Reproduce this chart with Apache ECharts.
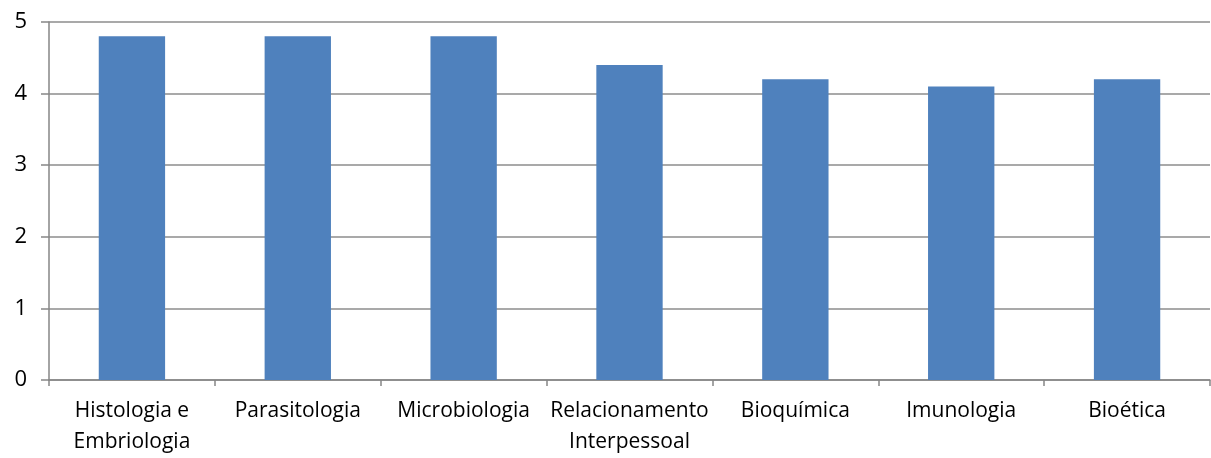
<!DOCTYPE html>
<html>
<head>
<meta charset="utf-8">
<script src="https://cdn.jsdelivr.net/npm/echarts@6/dist/echarts.min.js"></script>
<style>
html,body{margin:0;padding:0;background:#fff;}
#c{width:1211px;height:458px;}
</style>
</head>
<body>
<div id="c"></div>
<script>
const categories = ["Histologia e\nEmbriologia", "Parasitologia", "Microbiologia", "Relacionamento\nInterpessoal", "Bioquímica", "Imunologia", "Bioética"];
const values = [4.8, 4.8, 4.8, 4.4, 4.2, 4.1, 4.2];
const yTicks = [0, 1, 2, 3, 4, 5];

const chart = echarts.init(document.getElementById('c'), null, {renderer: 'canvas'});
chart.setOption({
  animation: false,
  grid: {left: 49, right: 1, top: 22, bottom: 76, containLabel: false},
  xAxis: {
    type: 'category',
    data: categories,
    boundaryGap: true,
    axisLine: {lineStyle: {color: '#868686', width: 1.5}},
    axisTick: {show: true, length: 6, inside: false, lineStyle: {color: '#868686', width: 1.5}},
    axisLabel: {
      interval: 0,
      margin: 16,
      color: '#000',
      fontFamily: 'Open Sans',
      fontSize: 21,
      lineHeight: 31,
      align: 'center'
    }
  },
  yAxis: {
    type: 'value',
    min: yTicks[0],
    max: yTicks[yTicks.length - 1],
    interval: 1,
    axisLine: {show: true, lineStyle: {color: '#868686', width: 1.5}},
    axisTick: {show: true, length: 8, lineStyle: {color: '#868686', width: 1.5}},
    splitLine: {show: true, lineStyle: {color: '#8c8c8c', width: 1.5}},
    axisLabel: {
      margin: 22,
      color: '#000',
      fontFamily: 'Open Sans',
      fontSize: 22
    }
  },
  series: [{
    type: 'bar',
    data: values,
    barWidth: '40%',
    itemStyle: {color: '#4F81BD'}
  }]
});
</script>
</body>
</html>
